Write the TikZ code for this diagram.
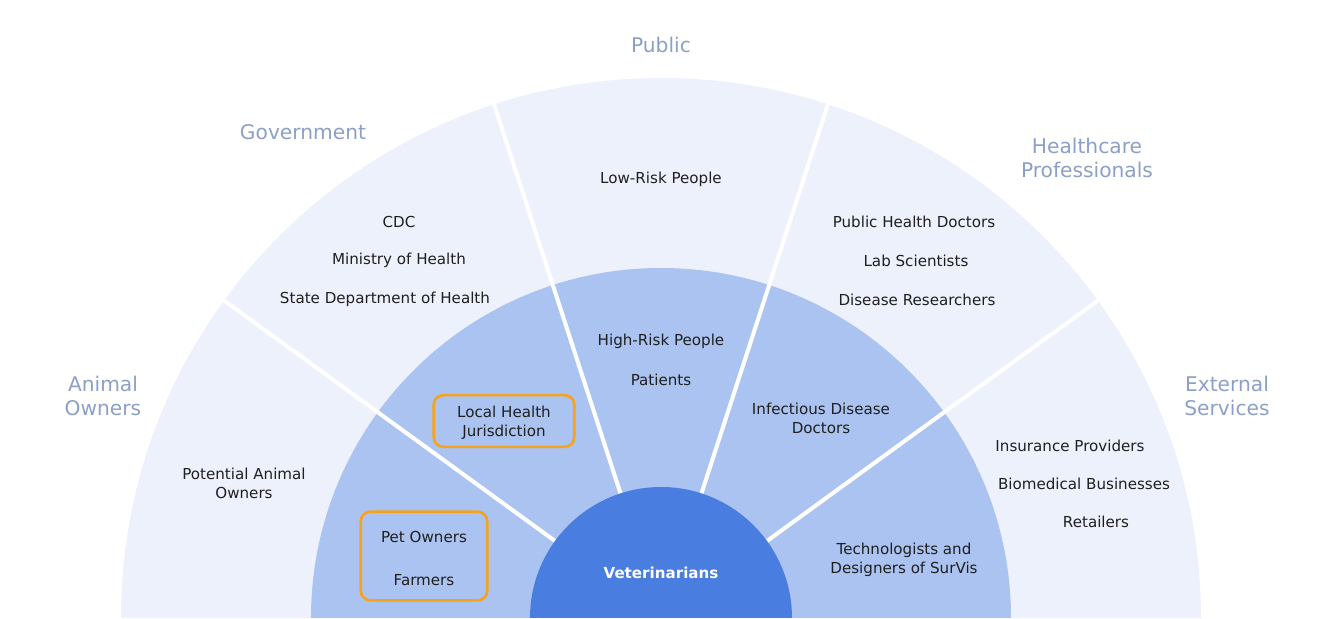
\documentclass[tikz,border=0pt]{standalone}
\usepackage{fontspec}
\setmainfont{DejaVu Sans}
\definecolor{outerfill}{HTML}{EDF1FC}
\definecolor{midfill}{HTML}{ABC3F0}
\definecolor{innerfill}{HTML}{4A7DE0}
\definecolor{grouptext}{HTML}{8C9FC6}
\definecolor{markbox}{HTML}{F5A31C}
\begin{document}
\begin{tikzpicture}[line cap=round,line join=round,x=0.02cm,y=0.02cm,
	item/.style={font=\fontsize{8.6}{10.8}\selectfont,text=black!88,align=center,inner sep=0pt,yshift=-1pt},
	group/.style={font=\fontsize{11.5}{13.6}\selectfont,text=grouptext,align=center,inner sep=0pt,yshift=-0.6pt},
	hilite/.style={draw=markbox,line width=1.5pt,rounded corners=5.5pt}]
				\useasboundingbox (-661,-1) rectangle (662,618);
				% rings
				\fill [outerfill] (540,0) arc (0:180:540) -- cycle;
				\fill [midfill] (350,0) arc (0:180:350) -- cycle;
				\foreach \a in {36,72,108,144}
					\draw [white,line width=2.3pt,line cap=butt] (\a:131) -- (\a:540);
				\fill [innerfill] (131,0) arc (0:180:131) -- cycle;
				% group names
				\node [group] (public) at (0,574) {Public};
				\node [group] (gov) at (-358,487) {Government};
				\node [group] (health) at (426,461) {Healthcare\\Professionals};
				\node [group] (owners) at (-558,223) {Animal\\Owners};
				\node [group] (extern) at (566,223) {External\\Services};
				% outer ring
				\node [item] (lowrisk) at (0,440) {Low-Risk People};
				\node [item] (cdc) at (-262,398) {CDC};
				\node [item] (moh) at (-262,359) {Ministry of Health};
				\node [item] (sdh) at (-276,320) {State Department of Health};
				\node [item] (phd) at (253,398) {Public Health Doctors};
				\node [item] (lab) at (255,359) {Lab Scientists};
				\node [item] (dres) at (256,320) {Disease Researchers};
				\node [item] (potential) at (-417,136) {Potential Animal\\Owners};
				\node [item] (insur) at (409,174) {Insurance Providers};
				\node [item] (biomed) at (423,136) {Biomedical Businesses};
				\node [item] (retail) at (435,98) {Retailers};
				% middle ring
				\node [item] (highrisk) at (0,278) {High-Risk People};
				\node [item] (patients) at (0,240) {Patients};
				\node [hilite,minimum width=80pt,minimum height=29.5pt] (lhjbox) at (-157,197) {};
				\node [item] (lhj) at (-157,197) {Local Health\\Jurisdiction};
				\node [hilite,minimum width=72pt,minimum height=50.5pt] (petbox) at (-237,62) {};
				\node [item] (pet) at (-237,83) {Pet Owners};
				\node [item] (farm) at (-237,40) {Farmers};
				\node [item] (idd) at (160,201) {Infectious Disease\\Doctors};
				\node [item] (tech) at (243,60) {Technologists and\\Designers of SurVis};
				% centre
				\node [item,text=white,font=\fontsize{8.6}{10.8}\selectfont\bfseries] (vet) at (0,47) {Veterinarians};
\end{tikzpicture}
\end{document}
